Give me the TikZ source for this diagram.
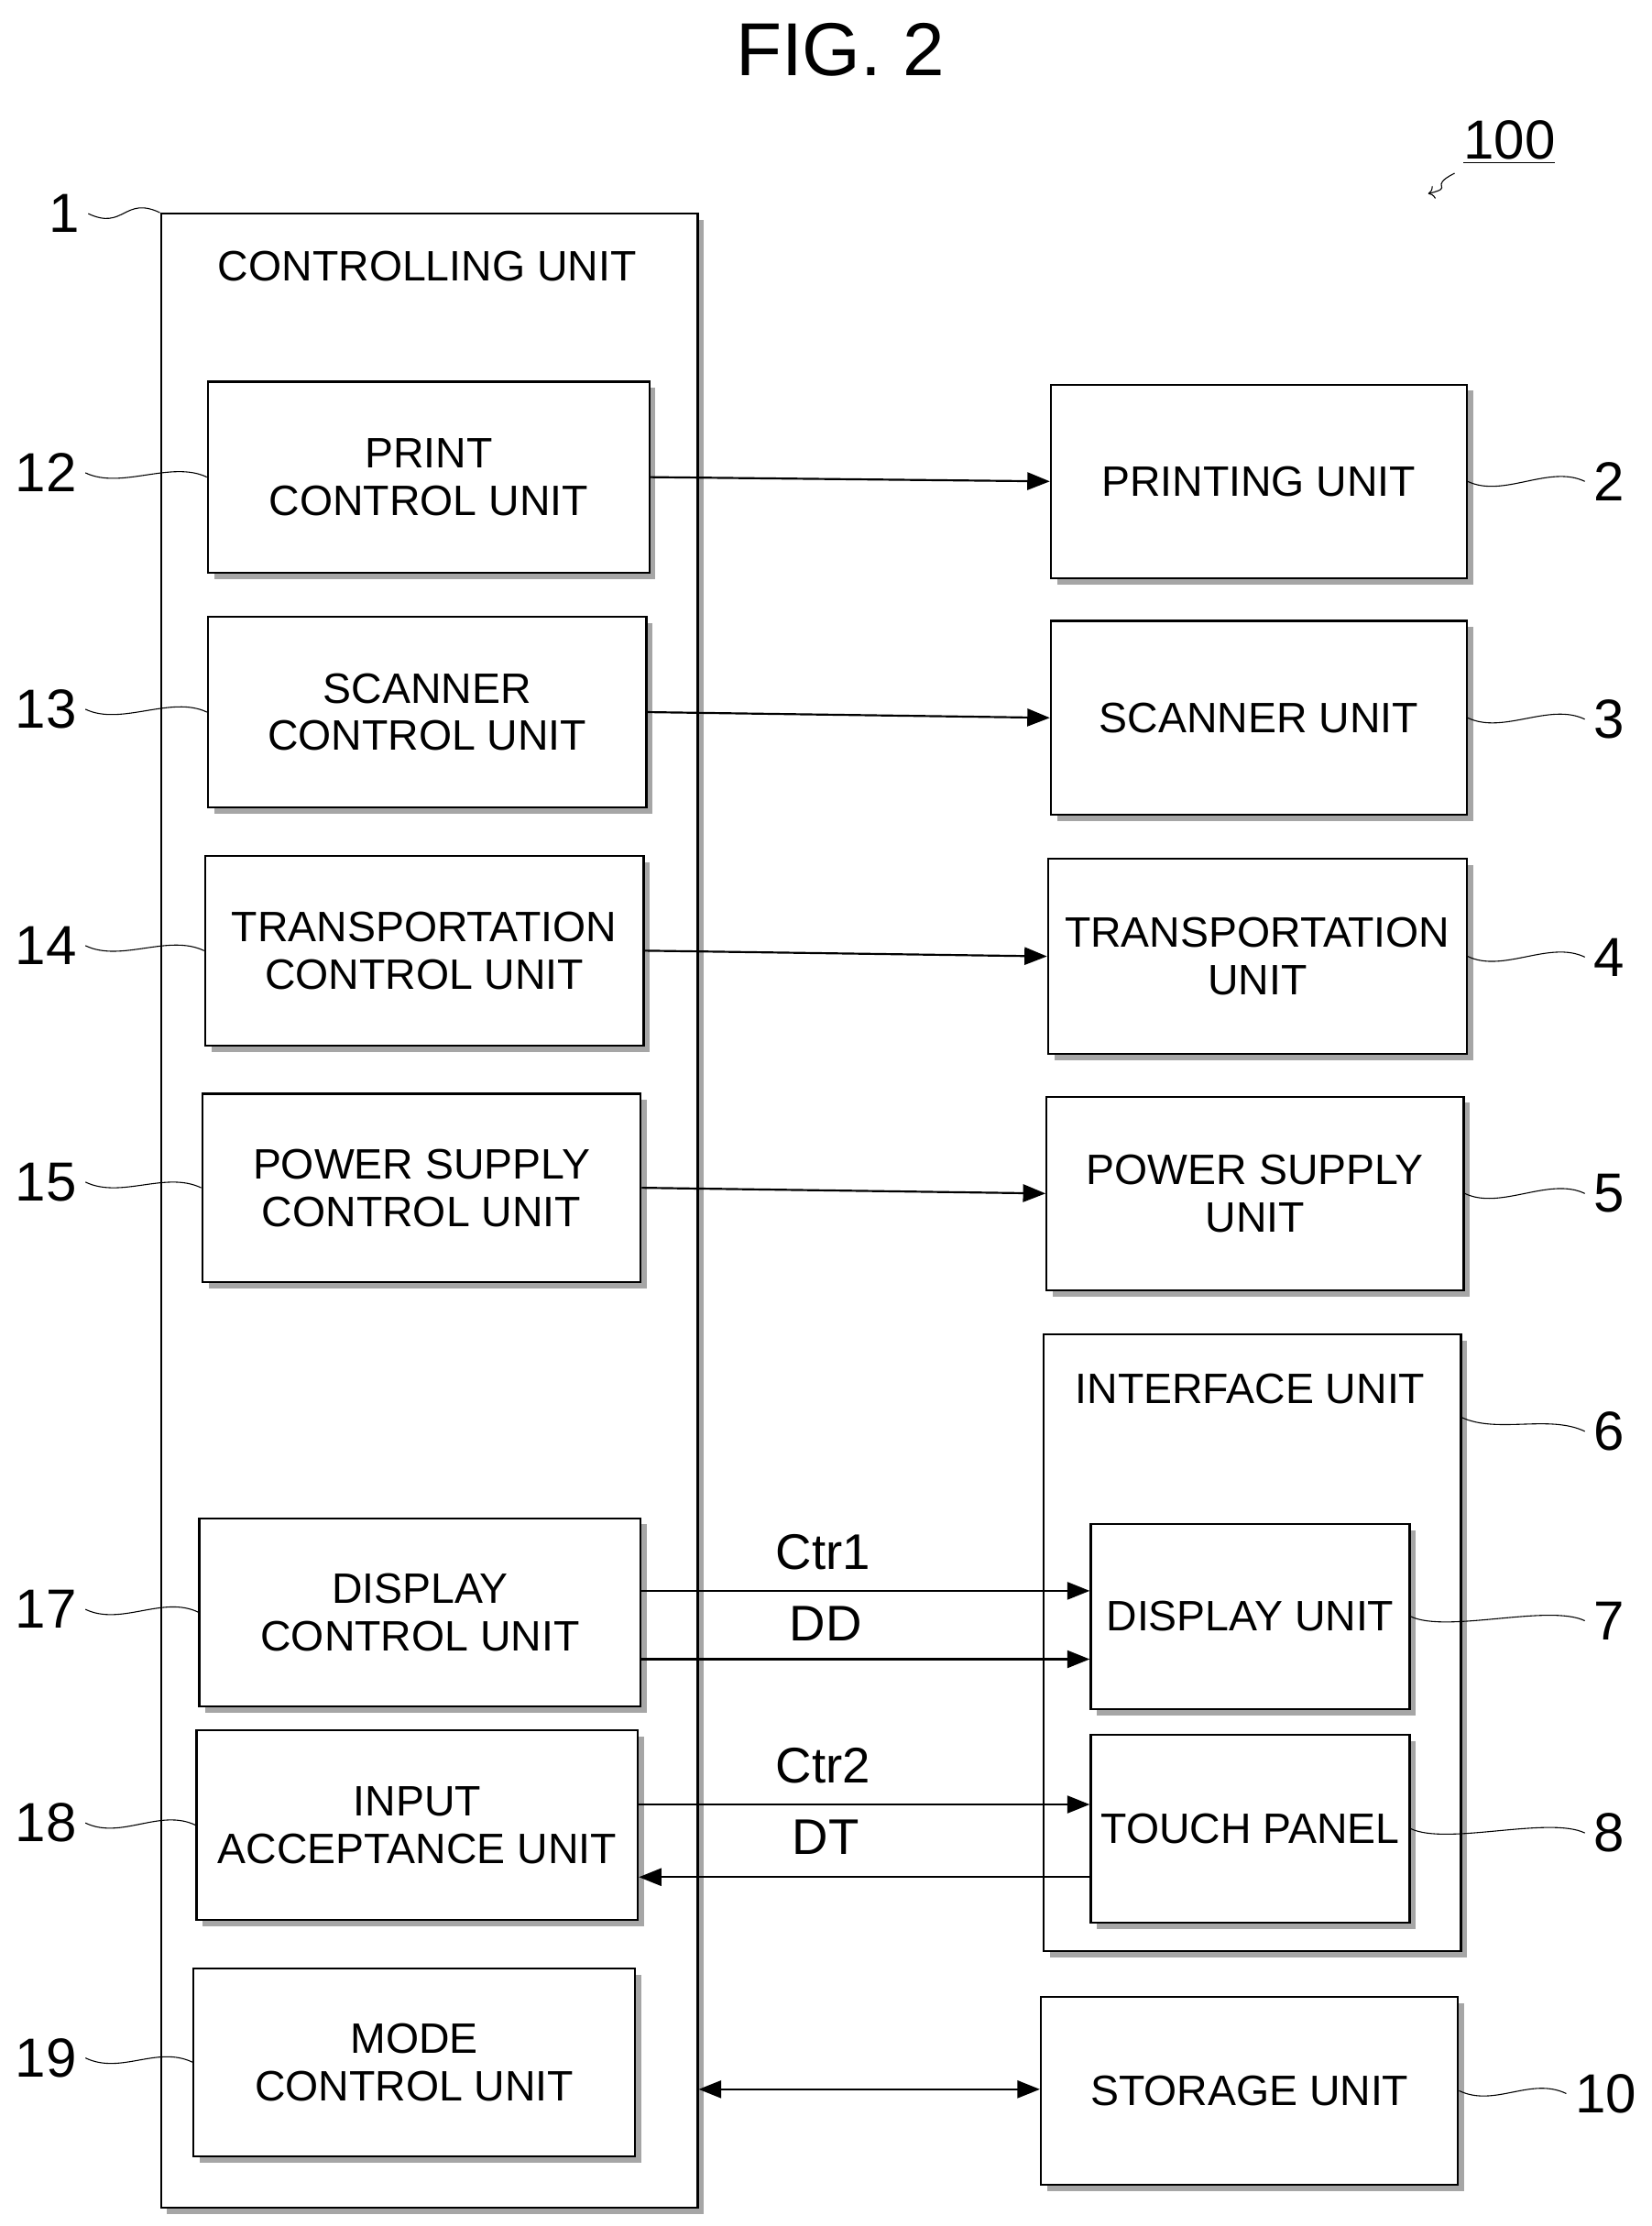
\documentclass[tikz,border=0pt]{standalone}
\usepackage{fontspec}
\setmainfont{Liberation Sans}
\usetikzlibrary{fit,shadows,arrows.meta}

\tikzset{
  unit/.style={draw, thick, fill=white, inner sep=0pt,
    drop shadow={shadow xshift=2.5pt, shadow yshift=-2.5pt, fill=gray!70, opacity=1}},
  lbl/.style={align=center, inner sep=0pt, font=\fontsize{17}{19}\selectfont},
  num/.style={font=\fontsize{22}{24}\selectfont},
  sig/.style={font=\fontsize{20}{22}\selectfont},
  link/.style={thick, -{Triangle[length=9pt,width=7pt]}},
  lead/.style={thin}
}

\begin{document}
\begin{tikzpicture}[x=0.02cm, y=-0.02cm]
            \useasboundingbox (0,0) rectangle (1160,1563);
            % Title and reference numeral
            \node[font=\fontsize{30}{32}\selectfont] (title) at (590,35) {FIG. 2};
            \node[num] (n100) at (1060,100) {\underline{100}};
            \coordinate (p100) at (1003,136);
            \draw[->, lead] (n100.south west) .. controls +(-20,10) and +(20,-5) .. (p100);

            % Controlling unit
            \node[unit, fit={(113,150) (490,1550)}] (ctrl) {};
            \node[lbl] (ctrlname) at (300,187) {CONTROLLING UNIT};
            \node[unit, fit={(146,268) (456,402)}] (print) {};
            \node[unit, fit={(146,433) (454,567)}] (scan) {};
            \node[unit, fit={(144,601) (452,734)}] (trans) {};
            \node[unit, fit={(142,768) (450,900)}] (power) {};
            \node[unit, fit={(140,1066) (450,1198)}] (disp) {};
            \node[unit, fit={(138,1215) (448,1348)}] (input) {};
            \node[unit, fit={(136,1382) (446,1514)}] (mode) {};
            \node[lbl] at (print) {PRINT\\CONTROL UNIT};
            \node[lbl] at (scan) {SCANNER\\CONTROL UNIT};
            \node[lbl] at (trans) {TRANSPORTATION\\CONTROL UNIT};
            \node[lbl] at (power) {POWER SUPPLY\\CONTROL UNIT};
            \node[lbl] at (disp) {DISPLAY\\CONTROL UNIT};
            \node[lbl] at (input) {INPUT\\ACCEPTANCE UNIT};
            \node[lbl] at (mode) {MODE\\CONTROL UNIT};

            % Units on the right
            \node[unit, fit={(738,270) (1030,406)}] (printing) {};
            \node[unit, fit={(738,436) (1030,572)}] (scanner) {};
            \node[unit, fit={(736,603) (1030,740)}] (transport) {};
            \node[unit, fit={(735,770) (1028,906)}] (supply) {};
            \node[unit, fit={(733,937) (1026,1370)}] (iface) {};
            \node[lbl] (ifacename) at (878,975) {INTERFACE UNIT};
            \node[unit, fit={(766,1070) (990,1200)}] (display) {};
            \node[unit, fit={(766,1218) (990,1350)}] (touch) {};
            \node[unit, fit={(731,1402) (1024,1534)}] (storage) {};
            \node[lbl] at (printing) {PRINTING UNIT};
            \node[lbl] at (scanner) {SCANNER UNIT};
            \node[lbl] at (transport) {TRANSPORTATION\\UNIT};
            \node[lbl] at (supply) {POWER SUPPLY\\UNIT};
            \node[lbl] at (display) {DISPLAY UNIT};
            \node[lbl] at (touch) {TOUCH PANEL};
            \node[lbl] at (storage) {STORAGE UNIT};

            % Connectors
            \draw[link] (print.east) -- (printing.west);
            \draw[link] (scan.east) -- (scanner.west);
            \draw[link] (trans.east) -- (transport.west);
            \draw[link] (power.east) -- (supply.west);
            \draw[link] (disp.east |- 0,1117) -- (display.west |- 0,1117);
            \draw[link] (disp.east |- 0,1165) -- (display.west |- 0,1165);
            \draw[link] (input.east |- 0,1267) -- (touch.west |- 0,1267);
            \draw[link] (touch.west |- 0,1318) -- (input.east |- 0,1318);
            \draw[thick, {Triangle[length=9pt,width=7pt]}-{Triangle[length=9pt,width=7pt]}]
              (ctrl.east |- 0,1467) -- (storage.west |- 0,1467);
            \node[sig] (ctr1) at (578,1090) {Ctr1};
            \node[sig] (dd) at (580,1140) {DD};
            \node[sig] (ctr2) at (578,1240) {Ctr2};
            \node[sig] (dt) at (580,1290) {DT};

            % Reference numerals on the left
            \foreach \name/\lbl/\y/\tgt in {n1/1/150/ctrl.north west, n12/12/332/print.west,
                n13/13/498/scan.west, n14/14/664/trans.west, n15/15/830/power.west,
                n17/17/1130/disp.west, n18/18/1280/input.west, n19/19/1445/mode.west} {
              \node[num, anchor=east] (\name) at (\ifnum\lbl=1 62\else 60\fi,\y) {\lbl};
              \draw[lead] (\name.east) .. controls +(25,12) and +(-25,-12) .. (\tgt);
            }
            % Reference numerals on the right
            \coordinate (iface6) at (1026,995);
            \foreach \name/\lbl/\y/\tgt in {n2/2/338/printing.east, n3/3/505/scanner.east,
                n4/4/672/transport.east, n5/5/838/supply.east, n6/6/1005/iface6,
                n7/7/1138/display.east, n8/8/1287/touch.east, n10/10/1470/storage.east} {
              \node[num, anchor=west] (\name) at (\ifnum\lbl=10 1100\else 1113\fi,\y) {\lbl};
              \draw[lead] (\name.west) .. controls +(-25,-12) and +(25,12) .. (\tgt);
            }
\end{tikzpicture}
\end{document}
